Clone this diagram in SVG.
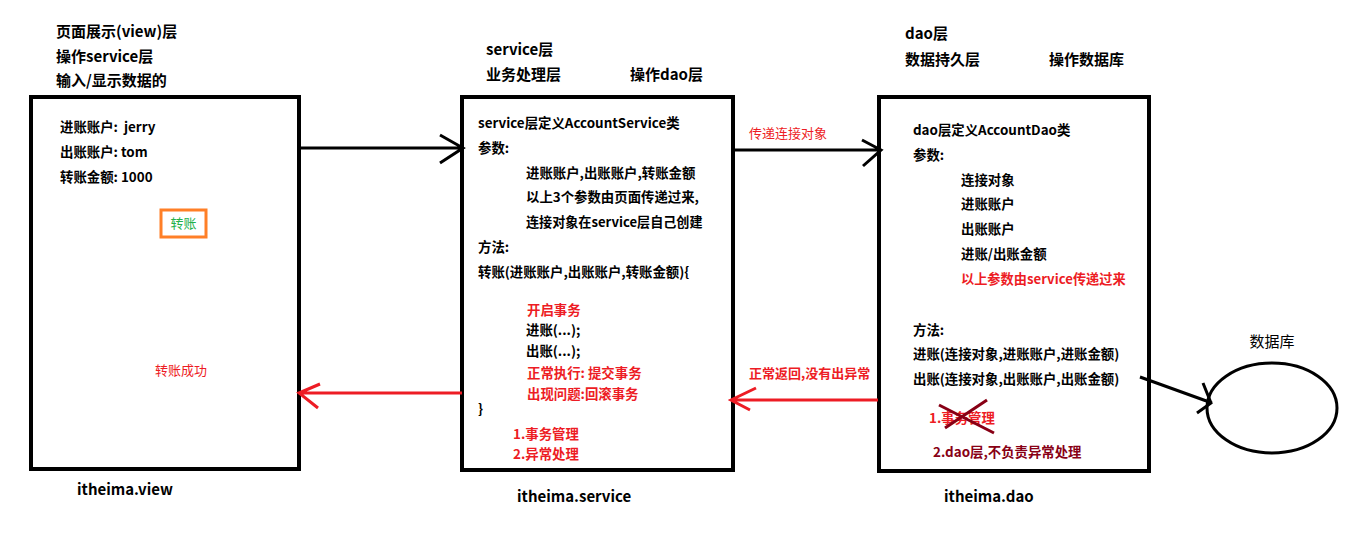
<svg xmlns="http://www.w3.org/2000/svg" width="1360" height="537" viewBox="0 0 1360 537">
<style>
text{font-family:"Noto Sans CJK SC","Microsoft YaHei",sans-serif;font-size:13.4px;font-weight:bold;fill:#000;white-space:pre}
.h{font-size:15px}
.r{fill:#ed1c24}
.dr{fill:#880015}
.box{fill:#fff;stroke:#000;stroke-width:4}
.blk{stroke:#000;stroke-width:3;fill:none}
.red{stroke:#ed1c24;stroke-width:3;fill:none}
</style>
<rect width="1360" height="537" fill="#fff"/>
<g id="view">
<text class="h" x="56" y="37">页面展示(view)层</text>
<text class="h" x="56" y="62">操作service层</text>
<text class="h" x="56" y="86">输入/显示数据的</text>
<rect class="box" x="31" y="97" width="268" height="372"/>
<text x="60" y="132" xml:space="preserve">进账账户:  jerry</text>
<text x="60" y="157">出账账户: tom</text>
<text x="60" y="182">转账金额: 1000</text>
<rect x="161" y="210" width="45" height="27" fill="#fff" stroke="#ff7f27" stroke-width="3"/>
<text x="183.5" y="228" text-anchor="middle" style="fill:#22b14c;font-weight:normal;font-size:13px">转账</text>
<text x="181" y="375" text-anchor="middle" class="r" style="font-weight:normal;font-size:13px">转账成功</text>
<text class="h" x="77" y="495">itheima.view</text>
</g>
<g id="service">
<text class="h" x="486" y="55">service层</text>
<text class="h" x="486" y="80">业务处理层</text>
<text class="h" x="630" y="80">操作dao层</text>
<rect class="box" x="462" y="97" width="271" height="373"/>
<text x="478" y="128">service层定义AccountService类</text>
<text x="478" y="153">参数:</text>
<text x="526" y="178">进账账户,出账账户,转账金额</text>
<text x="526" y="202">以上3个参数由页面传递过来,</text>
<text x="526" y="227" style="font-size:13.1px">连接对象在service层自己创建</text>
<text x="478" y="252">方法:</text>
<text x="478" y="277">转账(进账账户,出账账户,转账金额){</text>
<text x="527" y="315" class="r">开启事务</text>
<text x="526" y="335">进账(...);</text>
<text x="526" y="356">出账(...);</text>
<text x="527" y="378" class="r">正常执行: 提交事务</text>
<text x="527" y="399" class="r">出现问题:回滚事务</text>
<text x="478" y="414">}</text>
<text x="513" y="439" class="r">1.事务管理</text>
<text x="513" y="459" class="r">2.异常处理</text>
<text class="h" x="517" y="502">itheima.service</text>
</g>
<g id="dao">
<text class="h" x="905" y="39">dao层</text>
<text class="h" x="905" y="65">数据持久层</text>
<text class="h" x="1049" y="65">操作数据库</text>
<rect class="box" x="879" y="97" width="270" height="374"/>
<text x="913" y="135">dao层定义AccountDao类</text>
<text x="913" y="160">参数:</text>
<text x="961" y="185">连接对象</text>
<text x="961" y="209">进账账户</text>
<text x="961" y="234">出账账户</text>
<text x="961" y="259">进账/出账金额</text>
<text x="961" y="284" class="r" style="font-size:13.2px">以上参数由service传递过来</text>
<text x="913" y="335">方法:</text>
<text x="913" y="359">进账(连接对象,进账账户,进账金额)</text>
<text x="913" y="384">出账(连接对象,出账账户,出账金额)</text>
<text x="929" y="423" class="r">1.事务管理</text>
<path d="M939,405 L994,433 M945,428 L987,400" stroke="#880015" stroke-width="3" fill="none"/>
<text x="933" y="457" class="dr">2.dao层,不负责异常处理</text>
<text class="h" x="944" y="502">itheima.dao</text>
</g>
<g id="database">
<text x="1272" y="347" text-anchor="middle" style="font-weight:normal;font-size:15px">数据库</text>
<ellipse cx="1272" cy="408" rx="65" ry="45" fill="#fff" stroke="#000" stroke-width="3"/>
</g>
<g id="connectors">
<path class="blk" d="M300,148 L463,148 M440,135 L463,148 L440,163"/>
<path class="blk" d="M733,150 L880,150 M862,140 L881,150 L863,166"/>
<text x="749" y="138" class="r" style="font-weight:normal;font-size:13px">传递连接对象</text>
<path class="red" d="M878,400 L731,400 M756,388 L731,400 L750,410"/>
<text x="749" y="378" class="r" style="font-size:13px">正常返回,没有出异常</text>
<path class="red" d="M462,393 L299,393 M320,384 L299,393 L318,408"/>
<path class="blk" d="M1140,377 L1212,403 M1203,383 L1211,403 L1197,413"/>
</g>
</svg>
